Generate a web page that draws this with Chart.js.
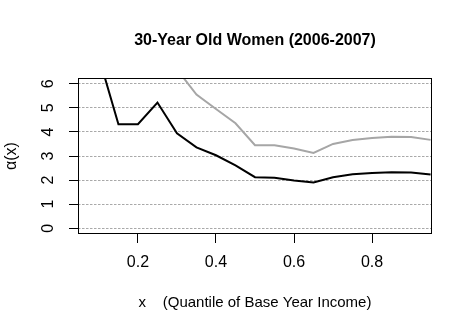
<!DOCTYPE html>
<html>
<head>
<meta charset="utf-8">
<script src="https://cdn.jsdelivr.net/npm/chart.js@4/dist/chart.umd.min.js"></script>
<style>
html,body{margin:0;padding:0;background:#fff;}
canvas{display:block;}
</style>
</head>
<body>
<canvas id="c" width="472" height="331"></canvas>
<script>
// ---- data ----
const quantiles = [0.05,0.10,0.15,0.20,0.25,0.30,0.35,0.40,0.45,0.50,0.55,0.60,0.65,0.70,0.75,0.80,0.85,0.90,0.95];
const alphaBlack = [9.0,7.1,4.32,4.32,5.22,3.94,3.36,3.03,2.61,2.12,2.10,1.98,1.90,2.12,2.24,2.29,2.33,2.31,2.23];
const alphaGray  = [null,null,null,null,8.0,6.6,5.55,4.95,4.36,3.45,3.45,3.31,3.13,3.50,3.66,3.75,3.80,3.79,3.67];
const xTickValues = [0.2,0.4,0.6,0.8];
const yTickValues = [0,1,2,3,4,5,6];
const titleText = '30-Year Old Women (2006-2007)';
const xTitle = 'x    (Quantile of Base Year Income)';
const yTitle = 'α(x)';

const FONT = "'Liberation Sans', Arial, sans-serif";
Chart.defaults.font.family = FONT;
Chart.defaults.color = '#000';

const toPts = (ys) => quantiles.map((x,i) => ({x, y: ys[i]}));

const boxPlugin = {
  id: 'rbox',
  afterDraw(chart) {
    const ctx = chart.ctx, a = chart.chartArea;
    ctx.save();
    ctx.strokeStyle = '#000';
    ctx.lineWidth = 1;
    ctx.setLineDash([]);
    ctx.strokeRect(a.left + 0.5, a.top + 0.5, a.right - a.left - 1, a.bottom - a.top - 1);
    // rotated y tick labels (R style, reading upward)
    const ys = chart.scales.y;
    ctx.fillStyle = '#000';
    ctx.font = '16px ' + FONT;
    ctx.textAlign = 'center';
    ctx.textBaseline = 'middle';
    yTickValues.forEach(v => {
      const py = ys.getPixelForValue(v);
      ctx.save();
      ctx.translate(49, py);
      ctx.rotate(-Math.PI / 2);
      ctx.fillText(String(v), 0, 0);
      ctx.restore();
    });
    ctx.restore();
  }
};

new Chart(document.getElementById('c'), {
  type: 'line',
  data: {
    datasets: [
      { data: toPts(alphaGray), borderColor: '#a6a6a6', borderWidth: 2, pointRadius: 0, tension: 0, clip: 0, spanGaps: false },
      { data: toPts(alphaBlack), borderColor: '#000000', borderWidth: 2, pointRadius: 0, tension: 0, clip: 0 }
    ]
  },
  options: {
    responsive: false,
    animation: false,
    devicePixelRatio: 1,
    layout: { padding: { left: 0, right: 40, top: 0, bottom: 0 } },
    plugins: {
      legend: { display: false },
      tooltip: { enabled: false },
      title: {
        display: true,
        fullSize: false,
        text: titleText,
        color: '#000',
        font: { size: 16, weight: 'bold', family: FONT },
        padding: { top: 31.4, bottom: 27.4 }
      }
    },
    scales: {
      x: {
        type: 'linear',
        min: 0.0464,
        max: 0.9536,
        afterBuildTicks: s => { s.ticks = xTickValues.map(v => ({ value: v })); },
        afterFit: s => { s.height = 97; },
        ticks: {
          font: { size: 16 },
          color: '#000',
          padding: 10,
          maxRotation: 0,
          minRotation: 0,
          callback: v => String(v)
        },
        grid: { drawOnChartArea: false, drawTicks: true, tickLength: 9, tickColor: '#000', tickWidth: 1 },
        border: { display: false },
        title: { display: true, text: xTitle, font: { size: 15 }, color: '#000', padding: { top: 0, bottom: 19 } }
      },
      y: {
        type: 'linear',
        min: -0.24,
        max: 6.24,
        afterBuildTicks: s => { s.ticks = yTickValues.map(v => ({ value: v })); },
        afterFit: s => { s.width = 78; },
        ticks: { display: false },
        grid: { drawOnChartArea: true, drawTicks: true, tickLength: 9, color: '#a9a9a9', lineWidth: 1, tickColor: '#000', tickWidth: 1, tickBorderDash: [] },
        border: { display: false, dash: [2.5, 1.5] },
        title: { display: true, text: yTitle, font: { size: 16 }, color: '#000', padding: { top: 2.4, bottom: 0 } }
      }
    }
  },
  plugins: [boxPlugin]
});
</script>
</body>
</html>
